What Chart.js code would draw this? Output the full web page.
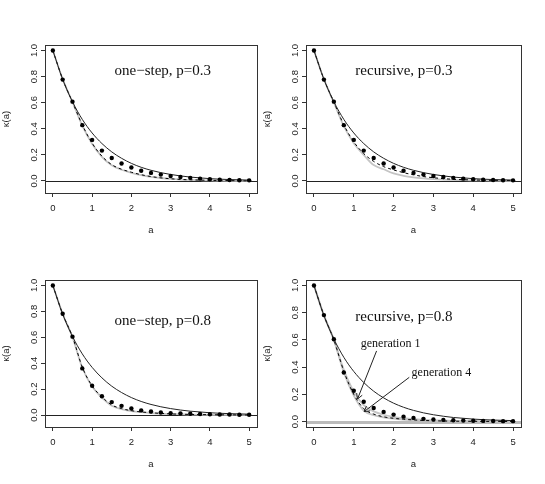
<!DOCTYPE html>
<html>
<head>
<meta charset="utf-8">
<script src="https://cdn.jsdelivr.net/npm/chart.js@4.4.1/dist/chart.umd.min.js"></script>
<style>
  html, body { margin: 0; padding: 0; background: #fff; }
  #wrap { position: relative; width: 545px; height: 484px; }
  .panel { position: absolute; }
</style>
</head>
<body>
<div id="wrap">
  <div class="panel" style="left:0;top:0"><canvas id="p1" width="261" height="242"></canvas></div>
  <div class="panel" style="left:261px;top:0"><canvas id="p2" width="284" height="242"></canvas></div>
  <div class="panel" style="left:0;top:242px"><canvas id="p3" width="261" height="242"></canvas></div>
  <div class="panel" style="left:261px;top:242px"><canvas id="p4" width="284" height="242"></canvas></div>
</div>
<script>
// grid of a values and axis ticks
const aVals = [0, 0.25, 0.5, 0.75, 1, 1.25, 1.5, 1.75, 2, 2.25, 2.5, 2.75, 3, 3.25, 3.5, 3.75, 4, 4.25, 4.5, 4.75, 5];
const xTicks = [0, 1, 2, 3, 4, 5];
const yTicks = [0, 0.2, 0.4, 0.6, 0.8, 1];

// solid reference curve (same in every panel)
const expCurve = [1, 0.779, 0.607, 0.472, 0.368, 0.287, 0.223, 0.174, 0.135, 0.105, 0.082, 0.064, 0.050, 0.039, 0.030, 0.024, 0.018, 0.014, 0.011, 0.009, 0.007];

// dots
const dotsP03 = [1, 0.777, 0.608, 0.428, 0.315, 0.233, 0.176, 0.134, 0.103, 0.079, 0.062, 0.049, 0.038, 0.031, 0.024, 0.018, 0.013, 0.010, 0.008, 0.006, 0.005];
const dotsP08 = [1, 0.782, 0.605, 0.360, 0.226, 0.145, 0.100, 0.071, 0.051, 0.036, 0.027, 0.020, 0.015, 0.012, 0.010, 0.008, 0.006, 0.005, 0.004, 0.003, 0.003];

// approximations
const oneStep03Dashed = [1, 0.78, 0.605, 0.43, 0.29, 0.19, 0.125, 0.09, 0.067, 0.048, 0.034, 0.024, 0.017, 0.012, 0.009, 0.007, 0.005, 0.004, 0.003, 0.002, 0.001];
const oneStep03Gray = [1, 0.78, 0.605, 0.425, 0.285, 0.185, 0.12, 0.086, 0.063, 0.045, 0.032, 0.023, 0.016, 0.011, 0.008, 0.006, 0.004, 0.003, 0.002, 0.002, 0.001];
const recursive03Dashed = [1, 0.78, 0.605, 0.43, 0.30, 0.21, 0.15, 0.11, 0.085, 0.064, 0.047, 0.034, 0.025, 0.018, 0.013, 0.010, 0.008, 0.006, 0.005, 0.004, 0.003];
const recursive03Gray = [1, 0.78, 0.6, 0.42, 0.29, 0.2, 0.122, 0.09, 0.058, 0.04, 0.028, 0.02, 0.014, 0.01, 0.008, 0.006, 0.005, 0.004, 0.003, 0.002, 0.002];
const oneStep08Dashed = [1, 0.78, 0.605, 0.37, 0.225, 0.14, 0.078, 0.05, 0.034, 0.024, 0.018, 0.013, 0.009, 0.007, 0.005, 0.004, 0.003, 0.002, 0.002, 0.001, 0.001];
const oneStep08Gray = [1, 0.78, 0.6, 0.365, 0.22, 0.135, 0.072, 0.046, 0.031, 0.022, 0.016, 0.011, 0.008, 0.006, 0.004, 0.003, 0.002, 0.002, 0.001, 0.001, 0.001];
const recursive08Dashed = [1, 0.78, 0.6, 0.37, 0.2, 0.095, 0.055, 0.035, 0.024, 0.017, 0.012, 0.008, 0.006, 0.004, 0.003, 0.002, 0.002, 0.001, 0.001, 0.001, 0];
const recursive08Gen1 = [1, 0.78, 0.6, 0.38, 0.22, 0.12, 0.075, 0.05, 0.035, 0.025, 0.018, 0.013, 0.009, 0.007, 0.005, 0.004, 0.003, 0.002, 0.002, 0.001, 0.001];
const recursive08Gen4 = [1, 0.78, 0.6, 0.36, 0.19, 0.08, 0.048, 0.031, 0.021, 0.015, 0.011, 0.008, 0.006, 0.004, 0.003, 0.002, 0.002, 0.001, 0.001, 0.001, 0];

const SANS = "'Liberation Sans', Arial, sans-serif";
const SERIF = "'Liberation Serif', 'Times New Roman', serif";

function pts(ys) {
    return aVals.map((a, i) => ({x: a, y: ys[i]}));
}

// 'order': higher numbers are drawn first (underneath)
function grayLine(ys) {
    return {data: pts(ys), order: 4, borderColor: '#c4c4c4', borderWidth: 1.8, pointRadius: 0, cubicInterpolationMode: 'monotone'};
}
function dashedLine(ys) {
    return {data: pts(ys), order: 3, borderColor: '#000', borderWidth: 1, borderDash: [3, 3], pointRadius: 0, cubicInterpolationMode: 'monotone'};
}
function solidLine(ys) {
    return {data: pts(ys), order: 2, borderColor: '#222', borderWidth: 1, pointRadius: 0, cubicInterpolationMode: 'monotone'};
}
function dots(ys) {
    return {data: pts(ys), order: 1, showLine: false, pointRadius: 2.2, pointBackgroundColor: '#000', pointBorderWidth: 0};
}

// box, zero line, panel label and arrows
const panelDecor = {
    id: 'panelDecor',
    beforeDatasetsDraw(chart, args, opts) {
        const {ctx, chartArea: ca, scales: {y}} = chart;
        const y0 = Math.round(y.getPixelForValue(0)) + (opts.zeroWidth % 2 ? 0.5 : 0);
        ctx.save();
        ctx.strokeStyle = opts.zeroColor;
        ctx.lineWidth = opts.zeroWidth;
        ctx.beginPath();
        ctx.moveTo(ca.left, y0);
        ctx.lineTo(ca.right, y0);
        ctx.stroke();
        ctx.restore();
    },
    afterDatasetsDraw(chart, args, opts) {
        const {ctx, chartArea: ca, scales: {x, y}} = chart;
        ctx.save();
        ctx.strokeStyle = '#333';
        ctx.lineWidth = 1;
        ctx.strokeRect(Math.round(ca.left) + 0.5, Math.round(ca.top) + 0.5,
            Math.round(ca.right - ca.left), Math.round(ca.bottom - ca.top));

        ctx.fillStyle = '#111';
        ctx.textAlign = 'center';
        ctx.textBaseline = 'middle';
        ctx.font = '15px ' + SERIF;
        ctx.fillText(opts.label, x.getPixelForValue(opts.labelAt[0]), y.getPixelForValue(opts.labelAt[1]));

        (opts.notes || []).forEach(n => {
            ctx.font = '12px ' + SERIF;
            ctx.fillStyle = '#111';
            ctx.fillText(n.text, x.getPixelForValue(n.at[0]), y.getPixelForValue(n.at[1]));
            const x1 = x.getPixelForValue(n.from[0]), y1 = y.getPixelForValue(n.from[1]);
            const x2 = x.getPixelForValue(n.to[0]), y2 = y.getPixelForValue(n.to[1]);
            const ang = Math.atan2(y2 - y1, x2 - x1);
            const head = 6;
            ctx.strokeStyle = '#222';
            ctx.lineWidth = 1;
            ctx.beginPath();
            ctx.moveTo(x1, y1);
            ctx.lineTo(x2, y2);
            ctx.moveTo(x2 - head * Math.cos(ang - Math.PI / 6), y2 - head * Math.sin(ang - Math.PI / 6));
            ctx.lineTo(x2, y2);
            ctx.lineTo(x2 - head * Math.cos(ang + Math.PI / 6), y2 - head * Math.sin(ang + Math.PI / 6));
            ctx.stroke();
        });
        ctx.restore();
    }
};

function createPanel(canvasId, cfg) {
    const canvas = document.getElementById(canvasId);
    const W = canvas.width, H = canvas.height;
    const yAxisW = 45, xAxisH = 44;
    new Chart(canvas.getContext('2d'), {
        type: 'line',
        data: {datasets: cfg.datasets},
        plugins: [panelDecor],
        options: {
            responsive: false,
            animation: false,
            layout: {
                padding: {left: cfg.area.l - yAxisW, right: W - cfg.area.r, top: cfg.area.t, bottom: H - cfg.area.b - xAxisH}
            },
            plugins: {
                legend: {display: false},
                tooltip: {enabled: false},
                panelDecor: cfg.decor
            },
            scales: {
                x: {
                    type: 'linear',
                    min: -0.2,
                    max: 5.2,
                    afterBuildTicks: s => { s.ticks = xTicks.map(v => ({value: v})); },
                    afterFit: s => { s.height = xAxisH; },
                    grid: {drawOnChartArea: false, drawTicks: true, tickLength: 4, color: '#333'},
                    border: {display: false},
                    ticks: {padding: 6, maxRotation: 0, color: '#222', font: {family: SANS, size: 9.5}, callback: v => String(v)},
                    title: {display: true, text: 'a', color: '#222', padding: {top: 0, bottom: 2}, font: {family: SANS, size: 9.5, lineHeight: 1}}
                },
                y: {
                    min: cfg.yMin,
                    max: cfg.yMax,
                    afterBuildTicks: s => { s.ticks = yTicks.map(v => ({value: v})); },
                    afterFit: s => { s.width = yAxisW; },
                    grid: {drawOnChartArea: false, drawTicks: true, tickLength: 4, color: '#333'},
                    border: {display: false},
                    ticks: {minRotation: 90, maxRotation: 90, crossAlign: 'center', padding: 0, color: '#222',
                        font: {family: SANS, size: 9.5}, callback: v => v.toFixed(1)},
                    title: {display: true, text: 'κ(a)', color: '#222', padding: {top: 2, bottom: 0}, font: {family: SANS, size: 9.5, lineHeight: 1}}
                }
            }
        }
    });
}

createPanel('p1', {
    area: {l: 45, r: 258, t: 45, b: 193},
    yMin: -0.092, yMax: 1.042,
    datasets: [grayLine(oneStep03Gray), dashedLine(oneStep03Dashed), solidLine(expCurve), dots(dotsP03)],
    decor: {label: 'one\u2212step, p=0.3', labelAt: [2.8, 0.84], zeroColor: '#222', zeroWidth: 1}
});

createPanel('p2', {
    area: {l: 45, r: 260, t: 45, b: 193},
    yMin: -0.092, yMax: 1.042,
    datasets: [grayLine(recursive03Gray), dashedLine(recursive03Dashed), solidLine(expCurve), dots(dotsP03)],
    decor: {label: 'recursive, p=0.3', labelAt: [2.26, 0.84], zeroColor: '#222', zeroWidth: 1}
});

createPanel('p3', {
    area: {l: 45, r: 258, t: 38, b: 185},
    yMin: -0.092, yMax: 1.042,
    datasets: [grayLine(oneStep08Gray), dashedLine(oneStep08Dashed), solidLine(expCurve), dots(dotsP08)],
    decor: {label: 'one\u2212step, p=0.8', labelAt: [2.8, 0.725], zeroColor: '#222', zeroWidth: 1}
});

createPanel('p4', {
    area: {l: 45, r: 260, t: 38, b: 185},
    yMin: -0.04, yMax: 1.04,
    datasets: [grayLine(recursive08Gen1), grayLine(recursive08Gen4), dashedLine(recursive08Dashed), solidLine(expCurve), dots(dotsP08)],
    decor: {
        label: 'recursive, p=0.8', labelAt: [2.26, 0.768], zeroColor: '#bbbbbb', zeroWidth: 3,
        notes: [
            {text: 'generation 1', at: [1.925, 0.568], from: [1.573, 0.519], to: [1.094, 0.166]},
            {text: 'generation 4', at: [3.2, 0.356], from: [2.394, 0.325], to: [1.26, 0.073]}
        ]
    }
});
</script>
</body>
</html>
